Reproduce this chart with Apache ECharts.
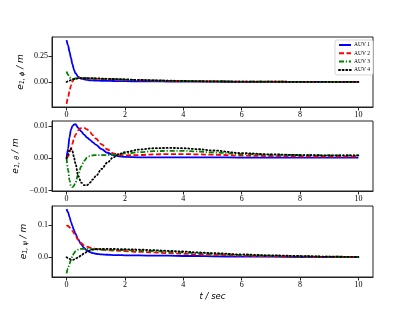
<!DOCTYPE html>
<html><head><meta charset="utf-8">
<script src="https://cdn.jsdelivr.net/npm/echarts@6/dist/echarts.min.js"></script>
<style>html,body{margin:0;padding:0;background:#fff}#c{width:415px;height:311px}</style>
</head><body><div id="c"></div>
<script>
const seriesNames = ['AUV 1', 'AUV 2', 'AUV 3', 'AUV 4'];
const t = [0, 0.05, 0.1, 0.15, 0.2, 0.25, 0.3, 0.4, 0.5, 0.6, 0.7, 0.8, 0.9, 1.0, 1.2, 1.4, 1.6, 1.8, 2.0, 2.5, 3.0, 3.5, 4.0, 4.5, 5.0, 6.0, 7.0, 8.0, 9.0, 10.0];
const xTicks = [0, 2, 4, 6, 8, 10];

// e_{1,phi}
const phi1 = [0.40, 0.35, 0.29, 0.23, 0.17, 0.12, 0.085, 0.048, 0.032, 0.024, 0.019, 0.016, 0.014, 0.013, 0.011, 0.010, 0.009, 0.008, 0.007, 0.006, 0.005, 0.004, 0.003, 0.003, 0.002, 0.001, 0.001, 0.0005, 0.0002, 0.0];
const phi2 = [-0.21, -0.15, -0.09, -0.035, 0.005, 0.025, 0.033, 0.036, 0.035, 0.034, 0.033, 0.032, 0.031, 0.030, 0.028, 0.026, 0.024, 0.022, 0.020, 0.016, 0.013, 0.010, 0.008, 0.006, 0.005, 0.003, 0.002, 0.001, 0.0005, 0.0];
const phi3 = [0.10, 0.07, 0.045, 0.032, 0.028, 0.030, 0.033, 0.036, 0.037, 0.036, 0.035, 0.034, 0.033, 0.032, 0.030, 0.028, 0.026, 0.024, 0.022, 0.018, 0.014, 0.011, 0.009, 0.007, 0.005, 0.003, 0.002, 0.001, 0.0005, 0.0];
const phi4 = [0.0, 0.006, 0.012, 0.018, 0.023, 0.027, 0.030, 0.034, 0.036, 0.037, 0.037, 0.036, 0.035, 0.034, 0.032, 0.030, 0.028, 0.026, 0.024, 0.019, 0.015, 0.012, 0.009, 0.007, 0.005, 0.003, 0.002, 0.001, 0.0005, 0.0];
const phiTicks = [0, 0.25];

// e_{1,theta}
const th1 = [0, 0.003, 0.0065, 0.0088, 0.0099, 0.0104, 0.0105, 0.0094, 0.0083, 0.0073, 0.0064, 0.0057, 0.0049, 0.0042, 0.0028, 0.0017, 0.0010, 0.0006, 0.0004, 0.0003, 0.0003, 0.0003, 0.0003, 0.0003, 0.0003, 0.0002, 0.0002, 0.0002, 0.0002, 0.0002];
const th2 = [0, 0.0005, 0.0015, 0.003, 0.0045, 0.006, 0.0072, 0.0086, 0.0093, 0.0094, 0.0089, 0.0081, 0.0071, 0.0061, 0.0043, 0.0027, 0.0015, 0.0010, 0.0009, 0.0010, 0.0012, 0.0013, 0.0013, 0.0012, 0.0011, 0.0008, 0.0007, 0.0006, 0.0005, 0.0005];
const th3 = [0, -0.0035, -0.0068, -0.0085, -0.0089, -0.0085, -0.0075, -0.005, -0.0025, -0.0008, 0.0002, 0.0007, 0.0009, 0.0010, 0.0010, 0.0010, 0.0011, 0.0013, 0.0015, 0.0019, 0.0022, 0.0023, 0.0023, 0.0021, 0.0018, 0.0013, 0.0011, 0.0010, 0.0009, 0.0009];
const th4 = [0, 0.0012, 0.0025, 0.0030, 0.0022, 0.0005, -0.0015, -0.0055, -0.0075, -0.0083, -0.0083, -0.0075, -0.0065, -0.0055, -0.0033, -0.0013, 0.0003, 0.0013, 0.0019, 0.0027, 0.0031, 0.0032, 0.0031, 0.0028, 0.0024, 0.0016, 0.0012, 0.0010, 0.0009, 0.0009];
const thTicks = [-0.01, 0, 0.01];

// e_{1,psi}
const ps1 = [0.15, 0.14, 0.125, 0.11, 0.097, 0.085, 0.074, 0.055, 0.040, 0.029, 0.021, 0.016, 0.013, 0.011, 0.009, 0.008, 0.007, 0.007, 0.006, 0.006, 0.005, 0.005, 0.004, 0.004, 0.003, 0.002, 0.002, 0.001, 0.001, 0.0005];
const ps2 = [0.10, 0.097, 0.093, 0.088, 0.082, 0.075, 0.067, 0.054, 0.044, 0.037, 0.033, 0.030, 0.028, 0.026, 0.024, 0.022, 0.021, 0.020, 0.019, 0.017, 0.015, 0.013, 0.011, 0.009, 0.008, 0.005, 0.003, 0.002, 0.001, 0.0005];
const ps3 = [-0.05, -0.035, -0.02, -0.008, 0.003, 0.012, 0.018, 0.024, 0.026, 0.026, 0.026, 0.025, 0.025, 0.024, 0.024, 0.023, 0.023, 0.022, 0.022, 0.021, 0.019, 0.017, 0.015, 0.013, 0.011, 0.007, 0.005, 0.003, 0.002, 0.001];
const ps4 = [0, -0.002, -0.005, -0.007, -0.008, -0.007, -0.004, 0.0, 0.006, 0.012, 0.017, 0.021, 0.024, 0.025, 0.026, 0.026, 0.026, 0.025, 0.025, 0.024, 0.022, 0.020, 0.018, 0.015, 0.013, 0.009, 0.006, 0.004, 0.002, 0.001];
const psTicks = [0, 0.1];

const colors = ['#0000ff', '#ff0000', '#008000', '#000000'];
const dashes = ['solid', [5, 2.5], [5, 1.8, 1.2, 1.8], [1, 2.6]];
const caps = ['butt', 'butt', 'butt', 'round'];

const serif = '"Liberation Serif", "DejaVu Serif", serif';
const mathFont = '"DejaVu Sans", sans-serif';

const grids = [
  {left: 52, top: 37, width: 321, height: 70},
  {left: 52, top: 121, width: 321, height: 70},
  {left: 52, top: 206, width: 321, height: 71}
].map(g => Object.assign({show: true, borderColor: '#222', borderWidth: 1, backgroundColor: 'transparent'}, g));

function fmtMinus(v, d) { const s = Math.abs(v).toFixed(d); return v < 0 ? '\u2212' + s : s; }

const xAxes = [0, 1, 2].map(i => ({
  type: 'value', gridIndex: i, min: -0.5, max: 10.5,
  axisLine: {show: true, onZero: false, lineStyle: {color: '#222', width: 1}},
  axisTick: {show: true, length: 3.5, customValues: xTicks, lineStyle: {color: '#222'}},
  axisLabel: {show: true, customValues: xTicks, color: '#000', fontFamily: serif, fontSize: 8, margin: 4},
  splitLine: {show: false},
  name: i === 2 ? 't / sec' : '', nameLocation: 'middle', nameGap: 15,
  nameTextStyle: {fontFamily: mathFont, fontStyle: 'italic', fontSize: 8.5, color: '#000'}
}));

const yInfo = [
  {min: -0.24, max: 0.43, ticks: phiTicks, d: 2, sub: '1, \u03d5', gap: 26},
  {min: -0.0101, max: 0.0115, ticks: thTicks, d: 2, sub: '1, \u03b8', gap: 31},
  {min: -0.061, max: 0.159, ticks: psTicks, d: 1, sub: '1, \u03c8', gap: 23}
];
const yAxes = yInfo.map((y, i) => ({
  type: 'value', gridIndex: i, min: y.min, max: y.max,
  axisLine: {show: true, onZero: false, lineStyle: {color: '#222', width: 1}},
  axisTick: {show: true, length: 3.5, customValues: y.ticks, lineStyle: {color: '#222'}},
  axisLabel: {show: true, customValues: y.ticks, color: '#000', fontFamily: serif, fontSize: 8, margin: 4,
    formatter: v => fmtMinus(v, y.d)},
  splitLine: {show: false},
  name: '{e|e}{s|' + y.sub + '}{m| / m}', nameLocation: 'middle', nameGap: y.gap, nameRotate: 90,
  nameMoveOverlap: false,
  nameTextStyle: {rich: {
    e: {fontFamily: mathFont, fontStyle: 'italic', fontSize: 9, color: '#000'},
    s: {fontFamily: mathFont, fontStyle: 'italic', fontSize: 6.5, color: '#000', verticalAlign: 'bottom', padding: [4, 0, 0, 0]},
    m: {fontFamily: mathFont, fontStyle: 'italic', fontSize: 9, color: '#000'}
  }}
}));

const panels = [[phi1, phi2, phi3, phi4], [th1, th2, th3, th4], [ps1, ps2, ps3, ps4]];
const series = [];
panels.forEach((arrs, gi) => {
  arrs.forEach((vals, si) => {
    series.push({
      type: 'line', name: seriesNames[si], xAxisIndex: gi, yAxisIndex: gi,
      data: t.map((x, k) => [x, vals[k]]),
      showSymbol: false, symbol: 'none', smooth: 0.35, smoothMonotone: 'x',
      lineStyle: {color: colors[si], width: 1.8, type: dashes[si], cap: caps[si]},
      itemStyle: {color: colors[si]},
      z: 2 + si, animation: false
    });
  });
});

const chart = echarts.init(document.getElementById('c'), null, {renderer: 'canvas'});
chart.setOption({
  backgroundColor: '#fff',
  animation: false,
  grid: grids,
  xAxis: xAxes,
  yAxis: yAxes,
  legend: {
    data: seriesNames, orient: 'vertical', left: 335, top: 40,
    itemWidth: 12, itemHeight: 5, itemGap: 2.3,
    padding: [2, 3, 2, 3],
    itemStyle: {opacity: 0, borderWidth: 0},
    backgroundColor: '#fff', borderColor: '#ccc', borderWidth: 0.8, borderRadius: 2,
    textStyle: {fontFamily: serif, fontStyle: 'normal', fontSize: 5.5, color: '#000', padding: [0, 0, 0, -2]}
  },
  series: series
});
</script></body></html>
